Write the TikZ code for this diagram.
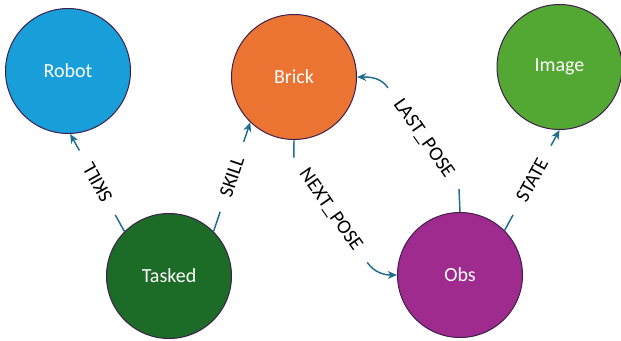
\documentclass[tikz,border=0pt]{standalone}
\usepackage{fontspec}
\setmainfont{Carlito}
\usepackage{xcolor}
\usetikzlibrary{arrows.meta}

\definecolor{robotc}{RGB}{24,158,216}
\definecolor{brickc}{RGB}{236,116,51}
\definecolor{imagec}{RGB}{83,167,51}
\definecolor{taskedc}{RGB}{28,107,39}
\definecolor{obsc}{RGB}{159,43,142}
\definecolor{ringc}{RGB}{62,30,76}
\definecolor{edgec}{RGB}{31,109,142}

\begin{document}
\begin{tikzpicture}[x=0.75pt, y=0.75pt,
	entity/.style={circle, minimum size=93.75pt, inner sep=0pt, draw=ringc, line width=0.75pt, text=white, font=\fontsize{15}{18}\selectfont},
	rel/.style={draw=edgec, line width=1.1pt},
	relarrow/.style={-{Stealth[length=7pt,width=6pt]}},
	rellabel/.style={fill=white, inner xsep=12pt, inner ysep=1pt, font=\fontsize{15}{18}\selectfont}]
		\useasboundingbox (0,0) rectangle (621,340);
		
		\node[entity, fill=robotc] (robot) at (68,269) {Robot};
		\node[entity, fill=brickc] (brick) at (294,263) {Brick};
		\node[entity, fill=imagec] (image) at (559.5,273) {Image};
		\node[entity, fill=taskedc] (tasked) at (169,64) {Tasked};
		\node[entity, fill=obsc] (obs) at (460,65) {Obs};
		
		\draw[rel, relarrow] (tasked.135) -- node[rellabel, sloped, allow upside down] {SKILL} (robot.-88);
		\draw[rel, relarrow] (tasked.45) -- node[rellabel, sloped] {SKILL} (brick.-134);
		\draw[rel, relarrow] (obs.45) -- node[rellabel, sloped] {STATE} (image.-90);
		
		\node[rellabel, fill=none, rotate=-55] (nextpose) at (330.5,130) {NEXT\_POSE};
		\node[rellabel, fill=none, rotate=-55] (lastpose) at (423.5,201.5) {LAST\_POSE};
		\draw[rel] (brick.south) -- (nextpose.west);
		\draw[rel, relarrow] (nextpose.east) to[out=-55, in=180] (obs.west);
		\draw[rel] (obs.north) -- (lastpose.east);
		\draw[rel, relarrow] (lastpose.west) to[out=125, in=0] (brick.east);
	\end{tikzpicture}
\end{document}
